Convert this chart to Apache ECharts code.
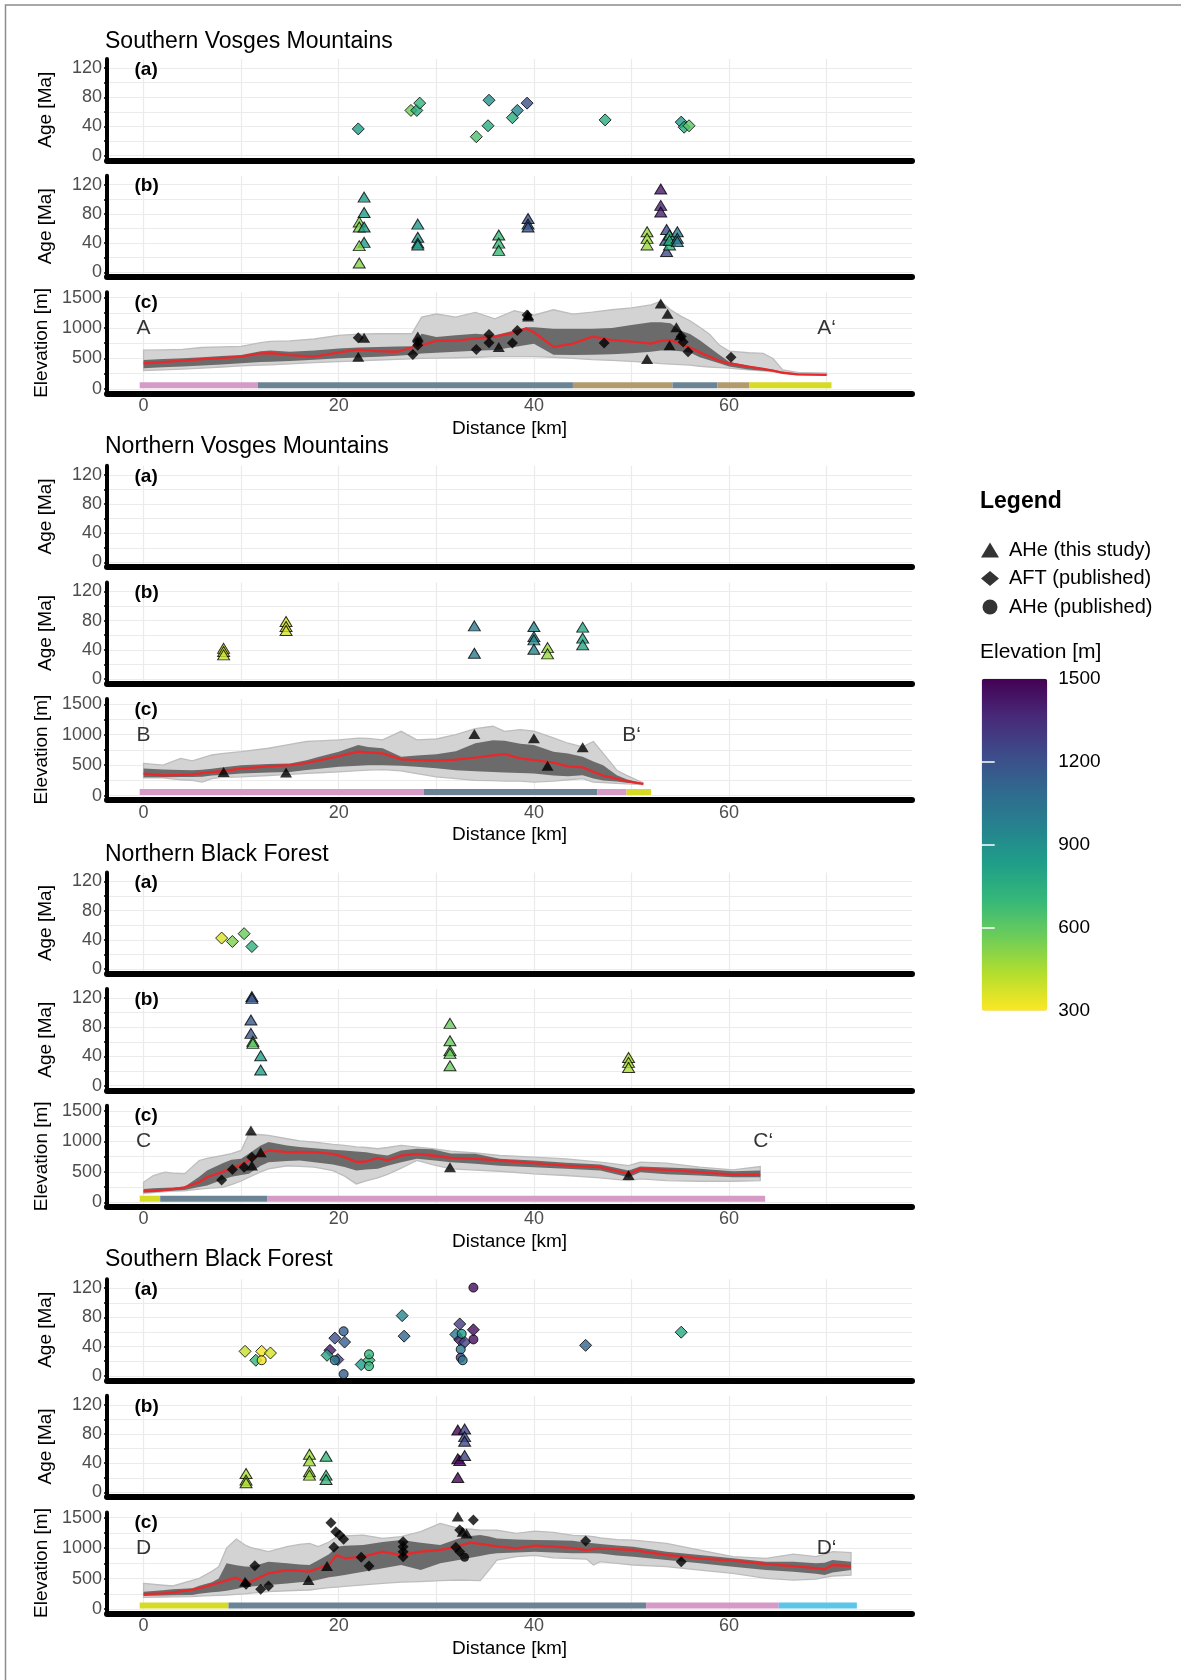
<!DOCTYPE html>
<html><head><meta charset="utf-8">
<script src="https://cdn.jsdelivr.net/npm/echarts@6/dist/echarts.min.js"></script>
<style>html,body{margin:0;padding:0;background:#fff}#c{width:1181px;height:1680px}</style>
</head><body><div id="c"></div>
<script>
// ================= DATA =================
const sectionTitles = ['Southern Vosges Mountains','Northern Vosges Mountains','Northern Black Forest','Southern Black Forest'];
const startLabels = ['A','B','C','D'];
const endLabels = ['A‘','B‘','C‘','D‘'];
const endLabelKm = [70, 50, 63.5, 70];
const labelElevation = 1000;
const xTickLabels = [0,20,40,60];
const xGridValues = [0,10,20,30,40,50,60,70];
const ageTickLabels = [0,40,80,120];
const ageGridValues = [0,20,40,60,80,100,120];
const elevTickLabels = [0,500,1000,1500];
const elevGridValues = [0,250,500,750,1000,1250,1500];
const colorbarLabels = [300,600,900,1200,1500];
const colorbarTicks = [600,900,1200];

// ---- swath profiles: distance [km], min, lower band, mean, upper band, max [m]
const distS1 = [0,2,4,6,8,10,12,13,15,17.5,20,22,24,26,27.5,28.5,30,32,34,36,38,39.2,40,42,44,46,48,50,52,53,54,55,56,57,58,59,60,62,63.5,64.5,65.5,67,70];
const minS1  = [302,312,325,340,360,378,390,395,410,430,448,460,475,485,495,502,505,512,520,529,529,529,529,520,500,480,468,452,430,415,408,400,390,372,360,350,340,312,298,280,258,235,228];
const loS1   = [340,355,370,385,400,421,440,445,460,480,502,515,530,545,560,583,595,610,625,640,690,720,740,560,556,560,570,585,610,630,637,620,600,520,470,420,367,320,300,285,262,238,230];
const meanS1 = [421,440,465,490,505,530,585,590,556,530,600,645,620,610,680,720,790,790,830,860,925,990,930,690,745,860,800,775,745,790,800,740,680,600,530,460,420,365,330,300,265,240,232];
const hiS1   = [475,490,505,520,540,556,620,630,610,630,664,680,690,695,700,906,853,880,906,880,960,1014,1014,990,987,987,1000,1050,1095,1095,1080,960,900,799,680,560,448,380,340,313,280,255,235];
const maxS1  = [637,640,650,680,690,700,760,780,790,820,880,900,906,906,910,1180,1230,1180,1257,1150,1284,1240,1210,1300,1230,1260,1300,1330,1380,1440,1300,1200,1120,1014,900,720,620,594,583,500,313,270,260];

const distS2 = [0,2,3.8,5,6,7,8,10,12.8,15,16.7,18,20,22,23,24.5,26.4,28,30,32,34,35.8,37,38.6,40,42,43.5,45,46.1,47.1,48.5,49.5,51.2];
const minS2  = [290,290,260,250,222,280,300,306,330,350,365,375,389,410,420,428,406,360,306,280,250,245,239,239,222,239,260,278,222,215,200,194,183];
const loS2   = [300,300,305,306,310,330,340,361,380,389,420,440,472,490,500,500,490,472,450,417,400,389,380,370,361,330,317,333,280,250,230,210,188];
const meanS2 = [361,333,340,350,370,385,400,444,480,500,539,580,650,722,710,694,594,583,575,590,625,660,683,611,583,540,480,465,389,330,278,239,194];
const hiS2   = [444,430,420,417,425,440,460,500,520,528,580,640,722,830,800,778,639,660,680,730,860,910,900,850,833,720,690,639,560,500,333,270,200];
const maxS2  = [528,500,611,572,620,667,690,722,778,840,889,900,917,944,940,917,1056,917,930,1000,1100,1139,1056,1083,1060,950,860,800,889,694,417,333,210];

const distS3 = [0,1,2.2,3,4.2,5.7,6.5,8.1,9,10,10.8,12,12.8,14.7,16,17.5,19.4,20.6,21.8,22.8,24,25,26.4,28,29.6,31.5,34,36.5,40,43.3,46.8,49.7,50.9,53.6,57,60.4,63.2];
const minS3  = [148,160,175,185,190,215,230,247,290,350,412,500,550,600,590,577,520,430,302,350,400,460,560,687,620,550,530,510,467,440,401,357,385,357,346,346,357];
const loS3   = [160,165,180,190,200,250,275,370,420,450,467,600,659,680,687,660,620,580,522,540,550,600,660,714,690,659,632,600,577,550,522,412,495,460,440,412,412];
const meanS3 = [181,190,203,215,247,330,412,500,550,620,687,790,852,824,830,824,797,742,665,670,730,690,769,797,769,731,714,687,643,604,577,467,550,533,495,456,456];
const hiS3   = [220,232,240,245,255,420,522,640,700,714,800,934,989,934,910,890,865,852,835,824,790,769,852,879,870,800,797,714,687,650,621,522,588,570,550,511,522];
const maxS3  = [330,440,495,480,467,687,720,769,800,852,1126,1110,1099,1044,1010,989,950,934,910,900,880,900,934,907,880,840,810,769,742,714,659,604,659,643,577,533,588];

const distS4 = [0,2,3,5,5.7,7,7.7,8.5,9.5,10.4,11,12.8,14.7,16,17,17.9,19,19.8,20.6,22.5,24.5,26.4,28.4,30.4,32.3,33.5,34.5,35.4,36.2,38.2,40.1,42,44,45.4,46.1,46.8,48.5,50.2,53.6,57,60.4,63.8,66.6,68.9,69.8,70.6,72.5];
const minS4  = [192,197,200,203,210,220,225,230,240,250,260,285,300,308,312,330,350,360,370,395,421,440,449,465,476,470,465,640,805,859,880,840,830,820,723,777,750,723,695,640,586,504,476,490,520,542,558];
const loS4   = [213,222,226,230,250,275,285,300,330,360,370,394,420,440,449,480,520,540,560,613,668,723,640,750,805,840,870,900,914,930,942,930,914,914,914,910,880,859,805,750,695,640,613,580,558,600,640];
const meanS4 = [246,258,268,320,339,400,430,470,515,440,450,586,640,625,613,670,730,887,832,859,942,887,942,969,1035,1089,1070,1051,1030,996,1040,1024,1000,969,985,996,985,969,887,832,794,739,706,670,651,723,706];
const hiS4   = [285,310,325,339,380,440,500,750,720,700,695,777,750,730,723,800,900,1024,1040,1051,1100,1133,1090,1051,1160,1200,1215,1190,1160,1140,1133,1130,1120,1090,1080,1067,1045,1024,942,887,832,777,777,750,760,805,777];
const maxS4  = [421,390,378,470,504,620,695,1000,1150,1051,1010,942,1024,1060,1078,1024,1100,1188,1200,1215,1160,1188,1270,1407,1325,1310,1297,1297,1297,1243,1280,1260,1210,1200,1190,1170,1140,1133,1078,969,859,832,903,859,900,942,925];

// ---- geological units along each profile: [from km, to km, unit]
const geoS1 = [[-0.4,11.7,'unit1'],[11.7,44.0,'unit2'],[44.0,54.2,'unit3'],[54.2,58.8,'unit2'],[58.8,62.1,'unit3'],[62.1,70.5,'unit4']];
const geoS2 = [[-0.4,28.7,'unit1'],[28.7,46.5,'unit2'],[46.5,49.5,'unit1'],[49.5,52.0,'unit4']];
const geoS3 = [[-0.4,1.7,'unit4'],[1.7,12.7,'unit2'],[12.7,63.7,'unit1']];
const geoS4 = [[-0.4,8.7,'unit4'],[8.7,51.5,'unit2'],[51.5,65.1,'unit1'],[65.1,73.1,'unit5']];

// ---- ages: [distance km, age Ma, sample elevation m]
const aftAgesS1 = [[22.0,36.7,841],[27.4,62,566],[28.0,62,770],[28.3,72,717],[34.1,26,647],[35.4,76,895],[35.3,41,760],[37.8,52,754],[38.3,62,960],[39.3,72,1213],[47.3,49,754],[55.1,46,862],[55.4,39,770],[55.9,41,609]];
const aheAgesS1 = [[22.6,103,841],[22.6,82,841],[22.1,69,528],[22.1,62,528],[22.6,62,841],[22.6,41,841],[22.1,36.5,528],[22.1,12.7,528],
  [28.1,66,862],[28.1,48,862],[28.1,40,862],[28.1,37.5,862],[36.4,51,689],[36.4,40,689],[36.4,30,689],
  [39.4,73.6,1213],[39.4,66,1190],[39.4,62,1190],[53.0,114,1418],[53.0,91.6,1392],[53.0,82.5,1392],
  [51.6,55.5,486],[51.6,46.5,486],[51.6,37.5,486],[53.6,58.7,1230],[53.6,28.4,1230],[53.5,44,1150],
  [53.9,51,717],[53.9,37.5,717],[53.9,44,760],[54.7,55.5,1013],[54.7,46.5,1013],[54.7,42,1013]];
const aheAgesS2 = [[8.2,42,389],[8.2,37.6,389],[8.2,33,389],[14.6,78.8,378],[14.6,72,378],[14.6,66.4,378],[33.9,72.8,1011],[33.9,35.3,1011],
  [40.0,72,944],[40.0,58,944],[40.0,53.6,944],[40.0,40.8,944],[41.4,43,489],[41.4,34.4,489],[45.0,71,794],[45.0,56,794],[45.0,46.7,794]];
const aftAgesS3 = [[8.0,42.5,368],[9.1,37.8,538],[10.3,48.5,577],[11.1,30.9,742]];
const aheAgesS3 = [[11.1,122,1181],[11.1,119.6,1181],[11.0,90,1181],[11.0,71.7,1181],[11.2,60.7,604],[11.2,58,604],[12.0,41,824],[12.0,21.5,824],
  [31.4,85.4,577],[31.4,61.6,577],[31.4,48,577],[31.4,44.3,577],[31.4,27.4,577],[49.7,38.7,450],[49.7,31.9,450],[49.7,25,450]];
const aftAgesS4 = [[10.4,33.5,405],[12.1,33.5,323],[13.0,31.2,378],[11.5,21.3,711],[19.6,51.6,1215],[20.6,46.2,1144],[19.1,34.9,1417],[18.8,28.1,800],
  [19.9,22.2,1269],[22.3,15.4,849],[23.1,21.3,706],[26.5,82.4,941],[26.7,54.3,1105],[32.4,71,1297],[33.8,63,1461],[32.0,56.6,1013],
  [32.4,49.3,1400],[32.9,46.1,1269],[45.3,41.7,1117],[55.1,59.7,777]];
const ahePubAgesS4 = [[12.1,21.3,323],[20.5,61,1144],[20.5,2.3,1144],[19.6,21.3,1013],[23.1,29.4,706],[23.1,13.2,706],[33.8,120.8,1461],
  [32.6,57.5,849],[33.8,49.8,1461],[32.5,36.2,1013],[32.5,24.9,1297],[32.7,21.3,1013]];
const aheAgesS4 = [[10.5,25.9,449],[10.5,16.8,449],[10.5,13.2,449],[17.0,52.3,476],[17.0,43.2,476],[17.0,28.2,476],[17.0,23.6,476],
  [18.7,49.5,706],[18.7,23.6,706],[18.7,17.7,706],[32.2,85.5,1495],[32.9,86.8,1269],[32.9,76.4,1242],[32.9,70,1242],
  [32.2,46.1,1495],[32.4,43.8,1460],[32.9,50.6,1269],[32.2,20.3,1495]];

// ---- sample locations on the profiles: [distance km, elevation m]
const aheSitesS1 = [[22.0,528],[22.6,841],[28.1,862],[36.4,689],[39.4,1190],[39.4,1213],[51.6,490],[53.0,1405],[53.7,1235],[53.9,717],[54.6,1013],[55.0,880]];
const aftSitesS1 = [[22.0,841],[27.6,566],[28.1,717],[28.1,770],[34.1,647],[35.4,895],[35.4,760],[37.8,754],[38.3,960],[39.3,1213],[47.2,754],[55.1,862],[55.3,770],[55.8,612],[60.2,518]];
const aheSitesS2 = [[8.2,389],[14.6,378],[33.9,1011],[40.0,944],[41.4,489],[45.0,794]];
const aheSitesS3 = [[11.0,1181],[11.1,604],[12.0,824],[31.4,577],[49.7,450]];
const aftSitesS3 = [[8.0,368],[9.1,538],[10.3,577],[11.1,742]];
const aheSitesS4 = [[10.4,449],[16.9,476],[18.8,706],[32.2,1520],[32.7,1269],[33.1,1242]];
const aftSitesS4 = [[10.5,405],[11.4,711],[12.0,323],[12.8,378],[19.2,1417],[19.7,1269],[20.1,1215],[20.5,1144],[19.5,1013],[22.3,849],[23.1,706],
  [26.6,1105],[26.6,1023],[26.6,941],[26.6,859],[33.8,1461],[32.4,1297],[32.0,1013],[32.4,941],[45.3,1117],[55.1,777]];
const ahePubSitesS4 = [[32.9,849]];

// ================= STYLE / LAYOUT =================
const FONT = 'Liberation Sans, Arial, sans-serif';
const geoColors = {unit1:'#d59bc6', unit2:'#6a8496', unit3:'#b39a6d', unit4:'#d6dc25', unit5:'#5bc6e8'};
const viridis = ['#FDE725','#B4DE2C','#6DCD59','#35B779','#1F9E89','#26828E','#31688E','#3E4A89','#482878','#440154'];
const GL = 107, GW = 805, TOPOFF = 96.6, GH = 101.2;
const secZero = [155.7, 562.4, 969.1, 1375.8];
const panelStep = 116.6;
const secTitleCenter = [41.7, 446.7, 855, 1260];
const plain = v => String(v);

const sections = [
  {dist:distS1,min:minS1,lo:loS1,mean:meanS1,hi:hiS1,max:maxS1,geo:geoS1,aftA:aftAgesS1,ahePubA:[],aheB:aheAgesS1,aheC:aheSitesS1,aftC:aftSitesS1,ahePubC:[]},
  {dist:distS2,min:minS2,lo:loS2,mean:meanS2,hi:hiS2,max:maxS2,geo:geoS2,aftA:[],ahePubA:[],aheB:aheAgesS2,aheC:aheSitesS2,aftC:[],ahePubC:[]},
  {dist:distS3,min:minS3,lo:loS3,mean:meanS3,hi:hiS3,max:maxS3,geo:geoS3,aftA:aftAgesS3,ahePubA:[],aheB:aheAgesS3,aheC:aheSitesS3,aftC:aftSitesS3,ahePubC:[]},
  {dist:distS4,min:minS4,lo:loS4,mean:meanS4,hi:hiS4,max:maxS4,geo:geoS4,aftA:aftAgesS4,ahePubA:ahePubAgesS4,aheB:aheAgesS4,aheC:aheSitesS4,aftC:aftSitesS4,ahePubC:ahePubSitesS4}
];

const grids = [], xAxes = [], yAxes = [], series = [], titles = [];
const colouredSeries = [];
const tickText = {fontSize:18, color:'#4d4d4d', fontFamily:FONT};

// band polygon between two profile curves, drawn through the axis scales
function bandSeries(ax, dist, lower, upper, fill, stroke) {
  return Object.assign({
    type:'custom', silent:true, z:1,
    data: dist.map((x,i) => [x, lower[i], upper[i]]),
    encode:{x:0, y:[1,2]},
    renderItem:(params, api) => {
      if (params.dataIndex !== 0) return null;
      const pts = [];
      for (let i = 0; i < dist.length; i++) pts.push(api.coord([dist[i], upper[i]]));
      for (let i = dist.length-1; i >= 0; i--) pts.push(api.coord([dist[i], lower[i]]));
      return {type:'polygon', shape:{points:pts},
        style: stroke ? {fill:fill, stroke:stroke, lineWidth:1.3} : {fill:fill}};
    }
  }, ax);
}

sections.forEach((sec, s) => {
  titles.push({text: sectionTitles[s], left:105, top: secTitleCenter[s]-11.5, padding:0,
    textStyle:{fontSize:23, fontWeight:'normal', fontFamily:FONT, color:'#000', lineHeight:23}});
  for (let p = 0; p < 3; p++) {
    const zero = secZero[s] + p*panelStep;
    const top = zero - TOPOFF;
    const gi = grids.length;
    grids.push({left:GL, width:GW, top:top, height:GH});
    const isElev = p === 2;
    xAxes.push({
      type:'value', gridIndex:gi, min:-3.75, max:78.75,
      axisLine:{show:true, onZero:false, lineStyle:{color:'#000', width:6}},
      axisTick:{show:false, customValues:xGridValues},
      axisLabel: isElev ? Object.assign({show:true, customValues:xTickLabels, margin:3.5, formatter:plain}, tickText) : {show:false},
      splitLine:{show:true, lineStyle:{color:'#ebebeb', width:1.2}},
      name: isElev ? 'Distance [km]' : '', nameLocation:'middle', nameGap:25.5,
      nameTextStyle:{fontSize:19, color:'#000', fontFamily:FONT}
    });
    yAxes.push({
      type:'value', gridIndex:gi,
      min: isElev ? -75.6 : -6.3, max: isElev ? 1587 : 132.3,
      axisLine:{show:true, onZero:false, lineStyle:{color:'#000', width:4}},
      axisTick:{show:true, length:3, customValues: isElev ? elevGridValues : ageGridValues, lineStyle:{color:'#000', width:1.5}},
      axisLabel: Object.assign({show:true, customValues: isElev ? elevTickLabels : ageTickLabels, margin:5, formatter:plain}, tickText),
      splitLine:{show:true, lineStyle:{color:'#ebebeb', width:1.2}},
      name: isElev ? 'Elevation [m]' : 'Age [Ma]', nameLocation:'middle', nameGap:51.5,
      nameTextStyle:{fontSize:19, color:'#000', fontFamily:FONT}
    });
    titles.push({text: ['(a)','(b)','(c)'][p], left:134.5, top: top+1, padding:0,
      textStyle:{fontSize:19, fontWeight:'bold', fontFamily:FONT, color:'#000', lineHeight:19}});

    const ax = {xAxisIndex:gi, yAxisIndex:gi};
    if (p === 0) {
      if (sec.aftA.length) { colouredSeries.push(series.length);
        series.push(Object.assign({type:'scatter', name:'AFT age', symbol:'diamond', symbolSize:12, data:sec.aftA, encode:{x:0,y:1},
          itemStyle:{borderColor:'#000', borderWidth:1}, silent:true, z:3}, ax)); }
      if (sec.ahePubA.length) { colouredSeries.push(series.length);
        series.push(Object.assign({type:'scatter', name:'AHe pub age', symbol:'circle', symbolSize:9, data:sec.ahePubA, encode:{x:0,y:1},
          itemStyle:{borderColor:'#000', borderWidth:1}, silent:true, z:3}, ax)); }
    } else if (p === 1) {
      if (sec.aheB.length) { colouredSeries.push(series.length);
        series.push(Object.assign({type:'scatter', name:'AHe age', symbol:'triangle', symbolSize:[12,10], data:sec.aheB, encode:{x:0,y:1},
          itemStyle:{borderColor:'#000', borderWidth:1}, silent:true, z:3}, ax)); }
    } else {
      const d = sec.dist;
      series.push(bandSeries(ax, d, sec.min, sec.max, '#d3d3d3', '#bdbdbd'));
      series.push(bandSeries(ax, d, sec.lo, sec.hi, '#6b6b6b', null));
      series.push(Object.assign({type:'line', symbol:'none', silent:true, z:2,
        data:d.map((x,i)=>[x, sec.mean[i]]), lineStyle:{color:'#e8282b', width:2.3}}, ax));
      series.push(Object.assign({type:'custom', silent:true, z:2,
        data: sec.geo.map(g => ({value:[g[0], g[1], 0], itemStyle:{color:geoColors[g[2]]}})),
        encode:{x:[0,1], y:2},
        renderItem:(params, api) => {
          const a = api.coord([api.value(0), 0]);
          const b = api.coord([api.value(1), 0]);
          return {type:'rect', shape:{x:a[0], y:a[1]-6.6, width:b[0]-a[0], height:6}, style:{fill:api.visual('color')}};
        }}, ax));
      if (sec.aftC.length) series.push(Object.assign({type:'scatter', name:'AFT (published)', symbol:'diamond', symbolSize:11,
        data:sec.aftC, itemStyle:{color:'#000'}, silent:true, z:3}, ax));
      if (sec.ahePubC.length) series.push(Object.assign({type:'scatter', name:'AHe (published)', symbol:'circle', symbolSize:9,
        data:sec.ahePubC, itemStyle:{color:'#000'}, silent:true, z:3}, ax));
      series.push(Object.assign({type:'scatter', name:'AHe (this study)', symbol:'triangle', symbolSize:[12,10],
        data:sec.aheC, itemStyle:{color:'#000'}, silent:true, z:3}, ax));
      series.push(Object.assign({type:'scatter', symbolSize:1, silent:true, z:4,
        data:[[0, labelElevation, startLabels[s]], [endLabelKm[s], labelElevation, endLabels[s]]],
        itemStyle:{color:'rgba(0,0,0,0)'},
        label:{show:true, position:'inside', formatter:p => p.value[2], fontSize:21, color:'#000', fontFamily:FONT}}, ax));
    }
  }
});

// colour bar axis (labels + white ticks)
const cbTop = 678.8, cbH = 332, cbLeft = 981.7, cbW = 65.6;
const cbGrid = grids.length;
grids.push({left:cbLeft, top:cbTop, width:cbW, height:cbH});
xAxes.push({type:'value', gridIndex:cbGrid, min:0, max:1, show:false});
yAxes.push({type:'value', gridIndex:cbGrid, min:300, max:1500, position:'right', z:10,
  axisLine:{show:false}, splitLine:{show:false},
  axisTick:{show:true, inside:true, length:13, customValues:colorbarTicks, lineStyle:{color:'#fff', width:1.5}},
  axisLabel:{show:true, customValues:colorbarLabels, margin:11, fontSize:19, color:'#000', fontFamily:FONT, formatter:plain}});
yAxes.push({type:'value', gridIndex:cbGrid, min:300, max:1500, position:'left', z:10,
  axisLine:{show:false}, splitLine:{show:false}, axisLabel:{show:false},
  axisTick:{show:true, inside:true, length:13, customValues:colorbarTicks, lineStyle:{color:'#fff', width:1.5}}});

titles.push({text:'Legend', left:980, top:490.3, padding:0, textStyle:{fontSize:23, fontWeight:'bold', fontFamily:FONT, color:'#000', lineHeight:23}});
titles.push({text:'Elevation [m]', left:980, top:642.2, padding:0, textStyle:{fontSize:21, fontWeight:'normal', fontFamily:FONT, color:'#000', lineHeight:21}});

const option = {
  animation:false,
  backgroundColor:'#fff',
  textStyle:{fontFamily:FONT},
  title:titles,
  grid:grids, xAxis:xAxes, yAxis:yAxes,
  legend:{orient:'vertical', left:981, top:540, itemWidth:18, itemHeight:15, itemGap:8.5, padding:0, selectedMode:false,
    data:[{name:'AHe (this study)', icon:'triangle'},{name:'AFT (published)', icon:'diamond'},{name:'AHe (published)', icon:'circle'}],
    itemStyle:{color:'#000'}, textStyle:{fontSize:20, color:'#000', fontFamily:FONT, padding:[0,0,0,5]}},
  visualMap:{type:'continuous', min:300, max:1500, dimension:2, seriesIndex:colouredSeries, orient:'vertical',
    left:cbLeft, top:cbTop, itemWidth:cbW, itemHeight:cbH, padding:0, calculable:false, hoverLink:false,
    inRange:{color:viridis}, text:null, showLabel:false},
  graphic:[{type:'rect', shape:{x:5.5, y:5, width:1220, height:1720}, style:{fill:'none', stroke:'#8c8c8c', lineWidth:1.5}, silent:true}],
  series:series
};
const chart = echarts.init(document.getElementById('c'), null, {renderer:'canvas'});
chart.setOption(option);
</script></body></html>
